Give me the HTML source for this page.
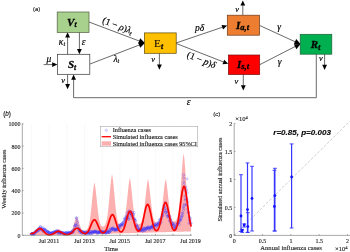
<!DOCTYPE html>
<html><head><meta charset="utf-8"><title>Figure</title>
<style>
html,body{margin:0;padding:0;background:#fff;}
body{width:350px;height:252px;overflow:hidden;font-family:"Liberation Sans",sans-serif;}
svg{display:block;will-change:transform;}
#pb text,#pc text{stroke:#262626;stroke-width:0.14px;}
</style></head><body>
<svg width="350" height="252" viewBox="0 0 350 252">
<rect width="350" height="252" fill="#fff"/>
<g id="pa">
<line x1="89.00" y1="22.00" x2="144.50" y2="43.00" stroke="#444444" stroke-width="0.80"/>
<line x1="90.00" y1="64.00" x2="144.50" y2="43.00" stroke="#444444" stroke-width="0.80"/>
<polygon points="144.80,43.00 138.20,43.50 140.18,38.26" fill="#000"/>
<polygon points="144.80,43.00 140.21,47.77 138.19,42.54" fill="#000"/>
<line x1="175.50" y1="43.20" x2="222.75" y2="27.11" stroke="#444444" stroke-width="0.80"/><polygon points="227.20,25.60 223.05,29.55 221.50,25.00" fill="#000"/>
<line x1="175.50" y1="43.20" x2="223.82" y2="62.09" stroke="#444444" stroke-width="0.80"/><polygon points="228.20,63.80 222.48,64.14 224.23,59.67" fill="#000"/>
<line x1="259.50" y1="25.40" x2="300.00" y2="44.00" stroke="#444444" stroke-width="0.80"/>
<line x1="259.50" y1="64.80" x2="300.00" y2="44.00" stroke="#444444" stroke-width="0.80"/>
<polygon points="300.50,44.00 293.88,44.04 296.22,38.95" fill="#000"/>
<polygon points="300.50,44.00 296.44,49.23 293.88,44.25" fill="#000"/>
<line x1="67.60" y1="54.50" x2="67.60" y2="36.90" stroke="#444444" stroke-width="0.80"/><polygon points="67.60,32.20 70.00,37.40 65.20,37.40" fill="#000"/>
<line x1="79.40" y1="32.00" x2="79.40" y2="49.60" stroke="#444444" stroke-width="0.80"/><polygon points="79.40,54.30 77.00,49.10 81.80,49.10" fill="#000"/>
<line x1="43.60" y1="64.60" x2="52.70" y2="64.60" stroke="#444444" stroke-width="0.80"/><polygon points="57.40,64.60 52.20,67.00 52.20,62.20" fill="#000"/>
<line x1="67.60" y1="74.50" x2="67.60" y2="84.60" stroke="#444444" stroke-width="0.80"/><polygon points="67.60,89.30 65.20,84.10 70.00,84.10" fill="#000"/>
<polyline points="316.3,54 316.3,97.7 73.6,97.7 73.6,78" fill="none" stroke="#444444" stroke-width="0.8"/>
<polygon points="73.60,74.60 76.00,79.80 71.20,79.80" fill="#000"/>
<line x1="159.40" y1="53.30" x2="159.40" y2="65.00" stroke="#444444" stroke-width="0.80"/><polygon points="159.40,69.70 157.00,64.50 161.80,64.50" fill="#000"/>
<line x1="242.80" y1="15.20" x2="242.80" y2="5.10" stroke="#444444" stroke-width="0.80"/><polygon points="242.80,0.40 245.20,5.60 240.40,5.60" fill="#000"/>
<line x1="243.30" y1="74.50" x2="243.30" y2="85.80" stroke="#444444" stroke-width="0.80"/><polygon points="243.30,90.50 240.90,85.30 245.70,85.30" fill="#000"/>
<line x1="324.60" y1="54.00" x2="324.60" y2="65.30" stroke="#444444" stroke-width="0.80"/><polygon points="324.60,70.00 322.20,64.80 327.00,64.80" fill="#000"/>
<rect x="57.20" y="12.00" width="31.80" height="20.40" fill="#A9D18E" stroke="#4d5d3a" stroke-width="0.7"/>
<rect x="57.50" y="54.30" width="32.30" height="20.00" fill="#ffffff" stroke="#333" stroke-width="0.7"/>
<rect x="144.40" y="32.90" width="31.80" height="20.40" fill="#FFC000" stroke="#5a4a10" stroke-width="0.7"/>
<rect x="227.30" y="15.20" width="32.30" height="20.00" fill="#ED7D31" stroke="#6a3a18" stroke-width="0.7"/>
<rect x="228.40" y="55.00" width="31.30" height="19.60" fill="#FF0000" stroke="#7a1010" stroke-width="0.7"/>
<rect x="300.20" y="34.30" width="31.60" height="19.90" fill="#00B050" stroke="#1f5f35" stroke-width="0.7"/>
<text x="71.80" y="25.60" font-family="Liberation Serif" font-size="11.0" text-anchor="middle" stroke="#000" stroke-width="0.3" style="font-style:italic;font-weight:bold">V<tspan font-family="Liberation Serif" font-size="7.5" dy="1.8" style="font-style:italic;font-weight:bold">t</tspan></text>
<text x="72.00" y="67.90" font-family="Liberation Serif" font-size="11.0" text-anchor="middle" stroke="#000" stroke-width="0.3" style="font-style:italic;font-weight:bold">S<tspan font-family="Liberation Serif" font-size="7.5" dy="1.8" style="font-style:italic;font-weight:bold">t</tspan></text>
<text x="158.6" y="46.9" font-family="Liberation Serif" font-size="11.3" text-anchor="middle">E<tspan font-size="7.5" dy="1.8" stroke="#000" stroke-width="0.3" style="font-style:italic;font-weight:bold">t</tspan></text>
<text x="242.50" y="28.70" font-family="Liberation Serif" font-size="11.0" text-anchor="middle" stroke="#000" stroke-width="0.3" style="font-style:italic;font-weight:bold">I<tspan font-family="Liberation Serif" font-size="8.5" dy="1.4" style="font-style:italic;font-weight:bold">a,t</tspan></text>
<text x="243.00" y="68.00" font-family="Liberation Serif" font-size="11.0" text-anchor="middle" stroke="#000" stroke-width="0.3" style="font-style:italic;font-weight:bold">I<tspan font-family="Liberation Serif" font-size="8.5" dy="1.4" style="font-style:italic;font-weight:bold">s,t</tspan></text>
<text x="315.50" y="48.00" font-family="Liberation Serif" font-size="11.0" text-anchor="middle" stroke="#000" stroke-width="0.3" style="font-style:italic;font-weight:bold">R<tspan font-family="Liberation Serif" font-size="7.5" dy="1.8" style="font-style:italic;font-weight:bold">t</tspan></text>
<text x="62.00" y="44.50" font-family="Liberation Serif" font-size="9.5" font-style="italic" text-anchor="middle" stroke="#000" stroke-width="0.18" >κ<tspan font-size="6.5" dy="1.5">t</tspan></text>
<text x="83.60" y="45.00" font-family="Liberation Serif" font-size="9.5" font-style="italic" text-anchor="middle" stroke="#000" stroke-width="0.18" >ε</text>
<text x="49.00" y="62.00" font-family="Liberation Serif" font-size="9.5" font-style="italic" text-anchor="middle" stroke="#000" stroke-width="0.18" >μ</text>
<text x="63.00" y="83.40" font-family="Liberation Serif" font-size="8.4" font-style="italic" text-anchor="middle" stroke="#000" stroke-width="0.18" >ν</text>
<text x="116.50" y="28.50" font-family="Liberation Serif" font-size="9.5" font-style="italic" text-anchor="middle" stroke="#000" stroke-width="0.18" transform="rotate(21.0 116.50 28.50)" ><tspan font-style="normal">(1 − </tspan>ρ<tspan font-style="normal">)</tspan>λ<tspan font-size="6.5" dy="1.5">t</tspan></text>
<text x="116.40" y="61.50" font-family="Liberation Serif" font-size="9.5" font-style="italic" text-anchor="middle" stroke="#000" stroke-width="0.18" >λ<tspan font-size="6.5" dy="1.5">t</tspan></text>
<text x="153.20" y="62.40" font-family="Liberation Serif" font-size="8.4" font-style="italic" text-anchor="middle" stroke="#000" stroke-width="0.18" >ν</text>
<text x="199.60" y="31.00" font-family="Liberation Serif" font-size="9.5" font-style="italic" text-anchor="middle" stroke="#000" stroke-width="0.18" >pδ</text>
<text x="200.30" y="62.80" font-family="Liberation Serif" font-size="9.5" font-style="italic" text-anchor="middle" stroke="#000" stroke-width="0.18" transform="rotate(22.0 200.30 62.80)" ><tspan font-style="normal">(1 − </tspan>p<tspan font-style="normal">)</tspan>δ</text>
<text x="237.00" y="12.00" font-family="Liberation Serif" font-size="8.4" font-style="italic" text-anchor="middle" stroke="#000" stroke-width="0.18" >ν</text>
<text x="236.30" y="83.80" font-family="Liberation Serif" font-size="8.4" font-style="italic" text-anchor="middle" stroke="#000" stroke-width="0.18" >ν</text>
<text x="279.00" y="30.00" font-family="Liberation Serif" font-size="9.5" font-style="italic" text-anchor="middle" stroke="#000" stroke-width="0.18" >γ</text>
<text x="279.60" y="65.20" font-family="Liberation Serif" font-size="9.5" font-style="italic" text-anchor="middle" stroke="#000" stroke-width="0.18" >γ</text>
<text x="320.80" y="61.40" font-family="Liberation Serif" font-size="8.4" font-style="italic" text-anchor="middle" stroke="#000" stroke-width="0.18" >ν</text>
<text x="188.60" y="105.00" font-family="Liberation Serif" font-size="9.5" font-style="italic" text-anchor="middle" stroke="#000" stroke-width="0.18" >ε</text>
<text x="36.7" y="10.9" font-family="Liberation Sans" font-size="5.9" text-anchor="middle" fill="#111" stroke="#111" stroke-width="0.12">(<tspan font-style="italic">a</tspan>)</text>
</g>
<g id="pb">
<line x1="31.50" y1="123.80" x2="31.50" y2="235.30" stroke="#f2f2f2" stroke-width="0.50"/>
<line x1="49.20" y1="123.80" x2="49.20" y2="235.30" stroke="#f2f2f2" stroke-width="0.50"/>
<line x1="66.90" y1="123.80" x2="66.90" y2="235.30" stroke="#f2f2f2" stroke-width="0.50"/>
<line x1="84.60" y1="123.80" x2="84.60" y2="235.30" stroke="#f2f2f2" stroke-width="0.50"/>
<line x1="102.30" y1="123.80" x2="102.30" y2="235.30" stroke="#f2f2f2" stroke-width="0.50"/>
<line x1="120.00" y1="123.80" x2="120.00" y2="235.30" stroke="#f2f2f2" stroke-width="0.50"/>
<line x1="137.70" y1="123.80" x2="137.70" y2="235.30" stroke="#f2f2f2" stroke-width="0.50"/>
<line x1="155.40" y1="123.80" x2="155.40" y2="235.30" stroke="#f2f2f2" stroke-width="0.50"/>
<line x1="173.10" y1="123.80" x2="173.10" y2="235.30" stroke="#f2f2f2" stroke-width="0.50"/>
<line x1="190.80" y1="123.80" x2="190.80" y2="235.30" stroke="#f2f2f2" stroke-width="0.50"/>
<polygon points="31.00,233.51 31.25,233.48 31.50,233.44 31.75,233.39 32.00,233.34 32.25,233.27 32.50,233.20 32.75,233.11 33.00,233.01 33.25,232.90 33.50,232.78 33.75,232.64 34.00,232.50 34.25,232.33 34.50,232.16 34.75,231.97 35.00,231.77 35.25,231.56 35.50,231.34 35.75,231.11 36.00,230.88 36.25,230.64 36.50,230.41 36.75,230.17 37.00,229.93 37.25,229.70 37.50,229.48 37.75,229.28 38.00,229.08 38.25,228.91 38.50,228.75 38.75,228.62 39.00,228.51 39.25,228.42 39.50,228.37 39.75,228.34 40.00,228.34 40.25,228.37 40.50,228.43 40.75,228.52 41.00,228.64 41.25,228.78 41.50,228.95 41.75,229.14 42.00,229.35 42.25,229.58 42.50,229.82 42.75,230.07 43.00,230.33 43.25,230.60 43.50,230.87 43.75,231.15 44.00,231.42 44.25,231.68 44.50,231.94 44.75,232.19 45.00,232.44 45.25,232.67 45.50,232.89 45.75,233.09 46.00,233.29 46.25,233.47 46.50,233.63 46.75,233.67 47.00,233.68 47.25,233.69 47.50,233.70 47.75,233.71 48.00,233.72 48.25,233.72 48.50,233.72 48.75,233.72 49.00,233.71 49.25,233.71 49.50,233.70 49.75,233.68 50.00,233.67 50.25,233.65 50.50,233.63 50.75,233.61 51.00,233.59 51.25,233.55 51.50,233.52 51.75,233.48 52.00,233.43 52.25,233.37 52.50,233.30 52.75,233.22 53.00,233.13 53.25,233.03 53.50,232.91 53.75,232.78 54.00,232.64 54.25,232.47 54.50,232.30 54.75,232.11 55.00,231.90 55.25,231.68 55.50,231.46 55.75,231.22 56.00,230.98 56.25,230.74 56.50,230.50 56.75,230.27 57.00,230.04 57.25,229.83 57.50,229.64 57.75,229.47 58.00,229.31 58.25,229.19 58.50,229.08 58.75,229.17 59.00,229.29 59.25,229.43 59.50,229.59 59.75,229.77 60.00,229.96 60.25,230.17 60.50,230.39 60.75,230.62 61.00,230.85 61.25,231.07 61.50,231.29 61.75,231.50 62.00,231.71 62.25,231.89 62.50,232.07 62.75,232.23 63.00,232.37 63.25,232.50 63.50,232.61 63.75,232.71 64.00,232.79 64.25,232.86 64.50,232.92 64.75,232.96 65.00,233.00 65.25,233.02 65.50,233.04 65.75,233.05 66.00,233.05 66.25,233.05 66.50,233.04 66.75,233.03 67.00,233.01 67.25,232.98 67.50,232.94 67.75,232.90 68.00,232.85 68.25,232.79 68.50,232.73 68.75,232.65 69.00,232.56 69.25,232.46 69.50,232.34 69.75,232.20 70.00,232.03 70.25,231.84 70.50,231.62 70.75,231.36 71.00,231.07 71.25,230.73 71.50,230.35 71.75,229.92 72.00,229.44 72.25,228.90 72.50,228.31 72.75,227.67 73.00,226.98 73.25,226.25 73.50,225.48 73.75,224.67 74.00,223.85 74.25,223.02 74.50,222.19 74.75,221.37 75.00,220.59 75.25,219.84 75.50,219.15 75.75,218.52 76.00,217.97 76.25,217.50 76.50,217.11 76.75,217.16 77.00,217.52 77.25,217.97 77.50,218.49 77.75,219.09 78.00,219.75 78.25,220.46 78.50,221.21 78.75,221.98 79.00,222.77 79.25,223.55 79.50,224.33 79.75,225.07 80.00,225.79 80.25,226.46 80.50,227.09 80.75,227.67 81.00,228.19 81.25,228.66 81.50,229.07 81.75,229.43 82.00,229.74 82.25,230.01 82.50,230.22 82.75,230.40 83.00,230.54 83.25,230.65 83.50,230.73 83.75,230.78 84.00,230.80 84.25,230.81 84.50,230.79 84.75,230.76 85.00,230.70 85.25,230.61 85.50,230.49 85.75,230.35 86.00,230.19 86.25,230.00 86.50,229.78 86.75,229.52 87.00,229.22 87.25,228.87 87.50,228.46 87.75,227.99 88.00,227.43 88.25,226.78 88.50,226.03 88.75,225.17 89.00,224.18 89.25,223.05 89.50,221.77 89.75,220.34 90.00,218.76 90.25,217.01 90.50,215.10 90.75,213.05 91.00,210.85 91.25,208.54 91.50,206.13 91.75,203.65 92.00,201.14 92.25,198.63 92.50,196.15 92.75,193.76 93.00,191.48 93.25,189.36 93.50,187.43 93.75,185.72 94.00,184.25 94.25,183.04 94.50,182.80 94.75,183.87 95.00,185.20 95.25,186.77 95.50,188.57 95.75,190.57 96.00,192.72 96.25,195.01 96.50,197.38 96.75,199.80 97.00,202.22 97.25,204.62 97.50,206.95 97.75,209.19 98.00,211.31 98.25,213.30 98.50,215.14 98.75,216.82 99.00,218.34 99.25,219.69 99.50,220.89 99.75,221.94 100.00,222.85 100.25,223.63 100.50,224.28 100.75,224.83 101.00,225.29 101.25,225.65 101.50,225.95 101.75,226.18 102.00,226.35 102.25,226.47 102.50,226.54 102.75,226.57 103.00,226.57 103.25,226.53 103.50,226.45 103.75,226.34 104.00,226.19 104.25,226.00 104.50,225.76 104.75,225.46 105.00,225.09 105.25,224.65 105.50,224.11 105.75,223.48 106.00,222.74 106.25,221.87 106.50,220.86 106.75,219.70 107.00,218.37 107.25,216.87 107.50,215.19 107.75,213.33 108.00,211.29 108.25,209.08 108.50,206.70 108.75,204.17 109.00,201.53 109.25,198.79 109.50,196.00 109.75,193.19 110.00,190.40 110.25,187.69 110.50,185.09 110.75,182.65 111.00,180.42 111.25,178.41 111.50,176.67 111.75,175.22 112.00,174.06 112.25,175.18 112.50,176.59 112.75,178.29 113.00,180.25 113.25,182.45 113.50,184.85 113.75,187.40 114.00,190.08 114.25,192.82 114.50,195.59 114.75,198.34 115.00,201.04 115.25,203.64 115.50,206.12 115.75,208.46 116.00,210.64 116.25,212.64 116.50,214.46 116.75,216.09 117.00,217.55 117.25,218.84 117.50,219.96 117.75,220.93 118.00,221.76 118.25,222.46 118.50,223.05 118.75,223.55 119.00,223.95 119.25,224.28 119.50,224.54 119.75,224.75 120.00,224.90 120.25,225.01 120.50,225.08 120.75,225.11 121.00,225.11 121.25,225.08 121.50,225.01 121.75,224.90 122.00,224.75 122.25,224.55 122.50,224.30 122.75,224.00 123.00,223.62 123.25,223.17 123.50,222.63 123.75,221.99 124.00,221.24 124.25,220.36 124.50,219.35 124.75,218.19 125.00,216.88 125.25,215.41 125.50,213.77 125.75,211.97 126.00,210.01 126.25,207.89 126.50,205.65 126.75,203.29 127.00,200.84 127.25,198.33 127.50,195.80 127.75,193.29 128.00,190.83 128.25,188.47 128.50,186.24 128.75,184.18 129.00,182.34 129.25,180.72 129.50,179.36 129.75,178.26 130.00,178.86 130.25,180.08 130.50,181.56 130.75,183.29 131.00,185.23 131.25,187.36 131.50,189.64 131.75,192.03 132.00,194.50 132.25,196.99 132.50,199.48 132.75,201.92 133.00,204.29 133.25,206.55 133.50,208.69 133.75,210.68 134.00,212.52 134.25,214.19 134.50,215.70 134.75,217.05 135.00,218.23 135.25,219.28 135.50,220.18 135.75,220.95 136.00,221.61 136.25,222.16 136.50,222.62 136.75,223.01 137.00,223.32 137.25,223.57 137.50,223.77 137.75,223.92 138.00,224.03 138.25,224.11 138.50,224.15 138.75,224.17 139.00,224.16 139.25,224.12 139.50,224.06 139.75,223.96 140.00,223.83 140.25,223.66 140.50,223.45 140.75,223.19 141.00,222.87 141.25,222.49 141.50,222.03 141.75,221.49 142.00,220.85 142.25,220.10 142.50,219.23 142.75,218.23 143.00,217.09 143.25,215.80 143.50,214.35 143.75,212.75 144.00,210.99 144.25,209.08 144.50,207.04 144.75,204.86 145.00,202.58 145.25,200.23 145.50,197.82 145.75,195.40 146.00,193.00 146.25,190.66 146.50,188.43 146.75,186.32 147.00,184.40 147.25,182.67 147.50,181.17 147.75,179.92 148.00,178.92 148.25,179.88 148.50,181.09 148.75,182.55 149.00,184.24 149.25,186.13 149.50,188.19 149.75,190.39 150.00,192.69 150.25,195.05 150.50,197.43 150.75,199.80 151.00,202.12 151.25,204.36 151.50,206.49 151.75,208.50 152.00,210.37 152.25,212.09 152.50,213.65 152.75,215.06 153.00,216.31 153.25,217.41 153.50,218.37 153.75,219.20 154.00,219.91 154.25,220.51 154.50,221.01 154.75,221.43 155.00,221.77 155.25,222.04 155.50,222.26 155.75,222.42 156.00,222.55 156.25,222.63 156.50,222.67 156.75,222.69 157.00,222.67 157.25,222.63 157.50,222.55 157.75,222.45 158.00,222.30 158.25,222.10 158.50,221.86 158.75,221.55 159.00,221.18 159.25,220.73 159.50,220.20 159.75,219.57 160.00,218.83 160.25,217.97 160.50,216.98 160.75,215.84 161.00,214.56 161.25,213.13 161.50,211.55 161.75,209.81 162.00,207.92 162.25,205.90 162.50,203.77 162.75,201.53 163.00,199.22 163.25,196.87 163.50,194.51 163.75,192.18 164.00,189.92 164.25,187.77 164.50,185.75 164.75,183.91 165.00,182.27 165.25,180.86 165.50,179.68 165.75,179.10 166.00,180.10 166.25,181.34 166.50,182.82 166.75,184.52 167.00,186.42 167.25,188.47 167.50,190.65 167.75,192.92 168.00,195.24 168.25,197.57 168.50,199.88 168.75,202.14 169.00,204.32 169.25,206.38 169.50,208.32 169.75,210.12 170.00,211.77 170.25,213.26 170.50,214.60 170.75,215.79 171.00,216.83 171.25,217.74 171.50,218.52 171.75,219.18 172.00,219.73 172.25,220.19 172.50,220.57 172.75,220.87 173.00,221.10 173.25,221.28 173.50,221.41 173.75,221.49 174.00,221.54 174.25,221.54 174.50,221.51 174.75,221.44 175.00,221.33 175.25,221.18 175.50,220.98 175.75,220.73 176.00,220.42 176.25,220.04 176.50,219.59 176.75,219.04 177.00,218.39 177.25,217.62 177.50,216.71 177.75,215.65 178.00,214.41 178.25,212.98 178.50,211.35 178.75,209.50 179.00,207.43 179.25,205.11 179.50,202.57 179.75,199.79 180.00,196.79 180.25,193.60 180.50,190.24 180.75,186.75 181.00,183.16 181.25,179.53 181.50,175.91 181.75,172.37 182.00,168.95 182.25,165.72 182.50,162.72 182.75,160.02 183.00,157.65 183.25,155.63 183.50,154.00 183.75,154.30 184.00,156.01 184.25,158.10 184.50,160.55 184.75,163.32 185.00,166.36 185.25,169.64 185.50,173.10 185.75,176.67 186.00,180.30 186.25,183.93 186.50,187.51 186.75,190.99 187.00,194.33 187.25,197.50 187.50,200.46 187.75,203.21 188.00,205.73 188.25,208.01 188.50,210.06 188.75,211.89 189.00,213.50 189.25,214.92 189.50,216.15 189.75,217.21 190.00,218.13 190.25,218.91 190.50,219.59 190.75,220.16 191.00,220.65 191.00,231.43 190.75,231.43 190.50,231.44 190.25,231.45 190.00,231.45 189.75,231.46 189.50,231.47 189.25,231.47 189.00,231.48 188.75,231.49 188.50,231.50 188.25,231.50 188.00,231.51 187.75,231.52 187.50,231.52 187.25,231.53 187.00,231.54 186.75,231.54 186.50,231.55 186.25,231.56 186.00,231.56 185.75,231.57 185.50,231.58 185.25,231.59 185.00,231.59 184.75,231.60 184.50,231.61 184.25,231.61 184.00,231.62 183.75,231.63 183.50,231.63 183.25,231.64 183.00,231.65 182.75,231.66 182.50,231.66 182.25,231.67 182.00,231.68 181.75,231.68 181.50,231.69 181.25,231.70 181.00,231.70 180.75,231.71 180.50,231.72 180.25,231.73 180.00,231.73 179.75,231.74 179.50,231.75 179.25,231.75 179.00,231.76 178.75,231.77 178.50,231.77 178.25,231.78 178.00,231.79 177.75,231.79 177.50,231.80 177.25,231.81 177.00,231.82 176.75,231.82 176.50,231.83 176.25,231.84 176.00,231.84 175.75,231.85 175.50,231.86 175.25,231.86 175.00,231.87 174.75,231.88 174.50,231.89 174.25,231.89 174.00,231.90 173.75,231.91 173.50,231.91 173.25,231.92 173.00,231.93 172.75,231.93 172.50,231.94 172.25,231.95 172.00,231.96 171.75,231.96 171.50,231.97 171.25,231.98 171.00,231.98 170.75,231.99 170.50,232.00 170.25,232.00 170.00,232.01 169.75,232.02 169.50,232.02 169.25,232.03 169.00,232.04 168.75,232.05 168.50,232.05 168.25,232.06 168.00,232.07 167.75,232.07 167.50,232.08 167.25,232.09 167.00,232.09 166.75,232.10 166.50,232.11 166.25,232.12 166.00,232.12 165.75,232.13 165.50,232.14 165.25,232.14 165.00,232.15 164.75,232.16 164.50,232.16 164.25,232.17 164.00,232.18 163.75,232.18 163.50,232.19 163.25,232.20 163.00,232.21 162.75,232.21 162.50,232.22 162.25,232.23 162.00,232.23 161.75,232.24 161.50,232.25 161.25,232.25 161.00,232.26 160.75,232.27 160.50,232.28 160.25,232.28 160.00,232.29 159.75,232.30 159.50,232.30 159.25,232.31 159.00,232.32 158.75,232.32 158.50,232.33 158.25,232.34 158.00,232.35 157.75,232.35 157.50,232.36 157.25,232.37 157.00,232.37 156.75,232.38 156.50,232.39 156.25,232.39 156.00,232.40 155.75,232.41 155.50,232.41 155.25,232.42 155.00,232.43 154.75,232.44 154.50,232.44 154.25,232.45 154.00,232.46 153.75,232.46 153.50,232.47 153.25,232.48 153.00,232.48 152.75,232.49 152.50,232.50 152.25,232.51 152.00,232.51 151.75,232.52 151.50,232.53 151.25,232.53 151.00,232.54 150.75,232.55 150.50,232.55 150.25,232.56 150.00,232.57 149.75,232.58 149.50,232.58 149.25,232.59 149.00,232.60 148.75,232.60 148.50,232.61 148.25,232.62 148.00,232.62 147.75,232.63 147.50,232.64 147.25,232.64 147.00,232.65 146.75,232.66 146.50,232.67 146.25,232.67 146.00,232.68 145.75,232.69 145.50,232.69 145.25,232.70 145.00,232.71 144.75,232.71 144.50,232.72 144.25,232.73 144.00,232.74 143.75,232.74 143.50,232.75 143.25,232.76 143.00,232.76 142.75,232.77 142.50,232.78 142.25,232.78 142.00,232.79 141.75,232.80 141.50,232.81 141.25,232.81 141.00,232.82 140.75,232.83 140.50,232.83 140.25,232.84 140.00,232.85 139.75,232.85 139.50,232.86 139.25,232.87 139.00,232.87 138.75,232.88 138.50,232.89 138.25,232.90 138.00,232.90 137.75,232.91 137.50,232.92 137.25,232.92 137.00,232.93 136.75,232.94 136.50,232.94 136.25,232.95 136.00,232.96 135.75,232.97 135.50,232.97 135.25,232.98 135.00,232.99 134.75,232.99 134.50,233.00 134.25,233.01 134.00,233.01 133.75,233.02 133.50,233.03 133.25,233.04 133.00,233.04 132.75,233.05 132.50,233.06 132.25,233.06 132.00,233.07 131.75,233.08 131.50,233.08 131.25,233.09 131.00,233.10 130.75,233.10 130.50,233.11 130.25,233.12 130.00,233.13 129.75,233.13 129.50,233.14 129.25,233.15 129.00,233.15 128.75,233.16 128.50,233.17 128.25,233.17 128.00,233.18 127.75,233.19 127.50,233.20 127.25,233.20 127.00,233.21 126.75,233.22 126.50,233.22 126.25,233.23 126.00,233.24 125.75,233.24 125.50,233.25 125.25,233.26 125.00,233.27 124.75,233.27 124.50,233.28 124.25,233.29 124.00,233.29 123.75,233.30 123.50,233.31 123.25,233.31 123.00,233.32 122.75,233.33 122.50,233.33 122.25,233.34 122.00,233.35 121.75,233.36 121.50,233.36 121.25,233.37 121.00,233.38 120.75,233.38 120.50,233.39 120.25,233.40 120.00,233.40 119.75,233.41 119.50,233.42 119.25,233.43 119.00,233.43 118.75,233.44 118.50,233.45 118.25,233.45 118.00,233.46 117.75,233.47 117.50,233.47 117.25,233.48 117.00,233.49 116.75,233.50 116.50,233.50 116.25,233.51 116.00,233.52 115.75,233.52 115.50,233.53 115.25,233.54 115.00,233.54 114.75,233.55 114.50,233.56 114.25,233.56 114.00,233.57 113.75,233.58 113.50,233.59 113.25,233.59 113.00,233.60 112.75,233.61 112.50,233.61 112.25,233.62 112.00,233.63 111.75,233.63 111.50,233.64 111.25,233.65 111.00,233.66 110.75,233.66 110.50,233.67 110.25,233.68 110.00,233.68 109.75,233.69 109.50,233.70 109.25,233.70 109.00,233.71 108.75,233.72 108.50,233.73 108.25,233.73 108.00,233.74 107.75,233.75 107.50,233.75 107.25,233.76 107.00,233.77 106.75,233.77 106.50,233.78 106.25,233.79 106.00,233.79 105.75,233.80 105.50,233.81 105.25,233.82 105.00,233.82 104.75,233.83 104.50,233.84 104.25,233.84 104.00,233.85 103.75,233.86 103.50,233.86 103.25,233.87 103.00,233.88 102.75,233.89 102.50,233.89 102.25,233.90 102.00,233.91 101.75,233.91 101.50,233.92 101.25,233.93 101.00,233.93 100.75,233.94 100.50,233.95 100.25,233.96 100.00,233.96 99.75,233.97 99.50,233.98 99.25,233.98 99.00,233.99 98.75,234.00 98.50,234.00 98.25,234.01 98.00,234.02 97.75,234.02 97.50,234.03 97.25,234.04 97.00,234.05 96.75,234.05 96.50,234.06 96.25,234.07 96.00,234.07 95.75,234.08 95.50,234.09 95.25,234.09 95.00,234.10 94.75,234.11 94.50,234.12 94.25,234.12 94.00,234.13 93.75,234.14 93.50,234.14 93.25,234.15 93.00,234.16 92.75,234.16 92.50,234.17 92.25,234.18 92.00,234.19 91.75,234.19 91.50,234.20 91.25,234.21 91.00,234.21 90.75,234.22 90.50,234.23 90.25,234.23 90.00,234.24 89.75,234.25 89.50,234.25 89.25,234.26 89.00,234.27 88.75,234.28 88.50,234.28 88.25,234.29 88.00,234.30 87.75,234.30 87.50,234.31 87.25,234.32 87.00,234.32 86.75,234.33 86.50,234.34 86.25,234.35 86.00,234.35 85.75,234.36 85.50,234.37 85.25,234.37 85.00,234.38 84.75,234.39 84.50,234.39 84.25,234.40 84.00,234.41 83.75,234.41 83.50,234.42 83.25,234.43 83.00,234.44 82.75,234.44 82.50,234.45 82.25,234.46 82.00,234.46 81.75,234.47 81.50,234.48 81.25,234.48 81.00,234.49 80.75,234.50 80.50,234.51 80.25,234.51 80.00,234.52 79.75,234.53 79.50,234.53 79.25,234.54 79.00,234.55 78.75,234.55 78.50,234.56 78.25,234.57 78.00,234.58 77.75,234.58 77.50,234.59 77.25,234.60 77.00,234.60 76.75,234.61 76.50,234.62 76.25,234.62 76.00,234.63 75.75,234.64 75.50,234.64 75.25,234.65 75.00,234.66 74.75,234.67 74.50,234.67 74.25,234.68 74.00,234.69 73.75,234.69 73.50,234.70 73.25,234.71 73.00,234.71 72.75,234.72 72.50,234.73 72.25,234.74 72.00,234.74 71.75,234.75 71.50,234.76 71.25,234.76 71.00,234.77 70.75,234.78 70.50,234.78 70.25,234.79 70.00,234.80 69.75,234.81 69.50,234.81 69.25,234.82 69.00,234.83 68.75,234.83 68.50,234.84 68.25,234.85 68.00,234.85 67.75,234.86 67.50,234.87 67.25,234.87 67.00,234.88 66.75,234.89 66.50,234.90 66.25,234.90 66.00,234.91 65.75,234.92 65.50,234.92 65.25,234.93 65.00,234.94 64.75,234.94 64.50,234.95 64.25,234.96 64.00,234.97 63.75,234.97 63.50,234.98 63.25,234.99 63.00,234.99 62.75,235.00 62.50,235.01 62.25,235.01 62.00,235.02 61.75,235.03 61.50,235.04 61.25,235.04 61.00,235.05 60.75,235.06 60.50,235.06 60.25,235.07 60.00,235.08 59.75,235.08 59.50,235.08 59.25,235.08 59.00,235.08 58.75,235.08 58.50,235.08 58.25,235.08 58.00,235.08 57.75,235.08 57.50,235.08 57.25,235.08 57.00,235.08 56.75,235.08 56.50,235.08 56.25,235.08 56.00,235.08 55.75,235.08 55.50,235.08 55.25,235.08 55.00,235.08 54.75,235.08 54.50,235.08 54.25,235.08 54.00,235.08 53.75,235.08 53.50,235.08 53.25,235.08 53.00,235.08 52.75,235.08 52.50,235.08 52.25,235.08 52.00,235.08 51.75,235.08 51.50,235.08 51.25,235.08 51.00,235.08 50.75,235.08 50.50,235.08 50.25,235.08 50.00,235.08 49.75,235.08 49.50,235.08 49.25,235.08 49.00,235.08 48.75,235.08 48.50,235.08 48.25,235.08 48.00,235.08 47.75,235.08 47.50,235.08 47.25,235.08 47.00,235.08 46.75,235.08 46.50,235.08 46.25,235.08 46.00,235.08 45.75,235.08 45.50,235.08 45.25,235.08 45.00,235.08 44.75,235.08 44.50,235.08 44.25,235.08 44.00,235.08 43.75,235.08 43.50,235.08 43.25,235.08 43.00,235.08 42.75,235.08 42.50,235.08 42.25,235.08 42.00,235.08 41.75,235.08 41.50,235.08 41.25,235.08 41.00,235.08 40.75,235.08 40.50,235.08 40.25,235.08 40.00,235.08 39.75,235.08 39.50,235.08 39.25,235.08 39.00,235.08 38.75,235.08 38.50,235.08 38.25,235.08 38.00,235.08 37.75,235.08 37.50,235.08 37.25,235.08 37.00,235.08 36.75,235.08 36.50,235.08 36.25,235.08 36.00,235.08 35.75,235.08 35.50,235.08 35.25,235.08 35.00,235.08 34.75,235.08 34.50,235.08 34.25,235.08 34.00,235.08 33.75,235.08 33.50,235.08 33.25,235.08 33.00,235.08 32.75,235.08 32.50,235.08 32.25,235.08 32.00,235.08 31.75,235.08 31.50,235.08 31.25,235.08 31.00,235.08" fill="#fdb0b0" stroke="none"/>
<g fill="none" stroke="#2f2fff" stroke-opacity="0.5" stroke-width="0.55"><circle cx="31.00" cy="233.78" r="1.1"/><circle cx="31.34" cy="234.11" r="1.1"/><circle cx="31.68" cy="234.15" r="1.1"/><circle cx="32.02" cy="233.45" r="1.1"/><circle cx="32.36" cy="233.50" r="1.1"/><circle cx="32.70" cy="233.61" r="1.1"/><circle cx="33.04" cy="233.69" r="1.1"/><circle cx="33.38" cy="233.37" r="1.1"/><circle cx="33.72" cy="234.80" r="1.1"/><circle cx="34.06" cy="233.97" r="1.1"/><circle cx="34.40" cy="233.16" r="1.1"/><circle cx="34.74" cy="233.00" r="1.1"/><circle cx="35.08" cy="232.25" r="1.1"/><circle cx="35.42" cy="231.70" r="1.1"/><circle cx="35.77" cy="231.07" r="1.1"/><circle cx="36.11" cy="232.15" r="1.1"/><circle cx="36.45" cy="231.40" r="1.1"/><circle cx="36.79" cy="230.35" r="1.1"/><circle cx="37.13" cy="231.21" r="1.1"/><circle cx="37.47" cy="230.00" r="1.1"/><circle cx="37.81" cy="230.35" r="1.1"/><circle cx="38.15" cy="229.94" r="1.1"/><circle cx="38.49" cy="228.67" r="1.1"/><circle cx="38.83" cy="230.78" r="1.1"/><circle cx="39.17" cy="229.14" r="1.1"/><circle cx="39.51" cy="227.96" r="1.1"/><circle cx="39.85" cy="229.08" r="1.1"/><circle cx="40.19" cy="226.96" r="1.1"/><circle cx="40.53" cy="226.66" r="1.1"/><circle cx="40.87" cy="228.77" r="1.1"/><circle cx="41.21" cy="228.16" r="1.1"/><circle cx="41.55" cy="229.54" r="1.1"/><circle cx="41.89" cy="229.78" r="1.1"/><circle cx="42.23" cy="228.68" r="1.1"/><circle cx="42.57" cy="230.08" r="1.1"/><circle cx="42.91" cy="227.72" r="1.1"/><circle cx="43.25" cy="231.93" r="1.1"/><circle cx="43.59" cy="229.60" r="1.1"/><circle cx="43.93" cy="230.13" r="1.1"/><circle cx="44.27" cy="229.14" r="1.1"/><circle cx="44.62" cy="229.83" r="1.1"/><circle cx="44.96" cy="229.11" r="1.1"/><circle cx="45.30" cy="230.06" r="1.1"/><circle cx="45.64" cy="231.17" r="1.1"/><circle cx="45.98" cy="230.28" r="1.1"/><circle cx="46.32" cy="232.56" r="1.1"/><circle cx="46.66" cy="231.81" r="1.1"/><circle cx="47.00" cy="231.25" r="1.1"/><circle cx="47.34" cy="231.69" r="1.1"/><circle cx="47.68" cy="231.83" r="1.1"/><circle cx="48.02" cy="231.77" r="1.1"/><circle cx="48.36" cy="231.82" r="1.1"/><circle cx="48.70" cy="232.99" r="1.1"/><circle cx="49.04" cy="232.40" r="1.1"/><circle cx="49.38" cy="232.79" r="1.1"/><circle cx="49.72" cy="232.92" r="1.1"/><circle cx="50.06" cy="233.71" r="1.1"/><circle cx="50.40" cy="233.44" r="1.1"/><circle cx="50.74" cy="233.32" r="1.1"/><circle cx="51.08" cy="233.44" r="1.1"/><circle cx="51.42" cy="233.12" r="1.1"/><circle cx="51.76" cy="232.47" r="1.1"/><circle cx="52.10" cy="232.98" r="1.1"/><circle cx="52.44" cy="232.81" r="1.1"/><circle cx="52.78" cy="233.01" r="1.1"/><circle cx="53.12" cy="232.83" r="1.1"/><circle cx="53.47" cy="232.31" r="1.1"/><circle cx="53.81" cy="231.78" r="1.1"/><circle cx="54.15" cy="232.76" r="1.1"/><circle cx="54.49" cy="231.83" r="1.1"/><circle cx="54.83" cy="232.02" r="1.1"/><circle cx="55.17" cy="232.18" r="1.1"/><circle cx="55.51" cy="232.09" r="1.1"/><circle cx="55.85" cy="231.18" r="1.1"/><circle cx="56.19" cy="231.37" r="1.1"/><circle cx="56.53" cy="231.63" r="1.1"/><circle cx="56.87" cy="230.30" r="1.1"/><circle cx="57.21" cy="232.02" r="1.1"/><circle cx="57.55" cy="231.93" r="1.1"/><circle cx="57.89" cy="233.32" r="1.1"/><circle cx="58.23" cy="232.06" r="1.1"/><circle cx="58.57" cy="231.67" r="1.1"/><circle cx="58.91" cy="231.14" r="1.1"/><circle cx="59.25" cy="233.08" r="1.1"/><circle cx="59.59" cy="232.20" r="1.1"/><circle cx="59.93" cy="233.23" r="1.1"/><circle cx="60.27" cy="232.79" r="1.1"/><circle cx="60.61" cy="233.06" r="1.1"/><circle cx="60.95" cy="232.13" r="1.1"/><circle cx="61.29" cy="232.78" r="1.1"/><circle cx="61.63" cy="232.60" r="1.1"/><circle cx="61.98" cy="232.35" r="1.1"/><circle cx="62.32" cy="232.93" r="1.1"/><circle cx="62.66" cy="232.96" r="1.1"/><circle cx="63.00" cy="233.17" r="1.1"/><circle cx="63.34" cy="232.94" r="1.1"/><circle cx="63.68" cy="232.95" r="1.1"/><circle cx="64.02" cy="234.36" r="1.1"/><circle cx="64.36" cy="233.56" r="1.1"/><circle cx="64.70" cy="234.22" r="1.1"/><circle cx="65.04" cy="232.63" r="1.1"/><circle cx="65.38" cy="233.33" r="1.1"/><circle cx="65.72" cy="233.80" r="1.1"/><circle cx="66.06" cy="232.38" r="1.1"/><circle cx="66.40" cy="232.83" r="1.1"/><circle cx="66.74" cy="233.11" r="1.1"/><circle cx="67.08" cy="233.18" r="1.1"/><circle cx="67.42" cy="233.59" r="1.1"/><circle cx="67.76" cy="233.01" r="1.1"/><circle cx="68.10" cy="233.33" r="1.1"/><circle cx="68.44" cy="232.23" r="1.1"/><circle cx="68.78" cy="232.81" r="1.1"/><circle cx="69.12" cy="232.83" r="1.1"/><circle cx="69.46" cy="232.92" r="1.1"/><circle cx="69.80" cy="232.62" r="1.1"/><circle cx="70.14" cy="233.77" r="1.1"/><circle cx="70.48" cy="233.04" r="1.1"/><circle cx="70.83" cy="232.91" r="1.1"/><circle cx="71.17" cy="232.31" r="1.1"/><circle cx="71.51" cy="231.99" r="1.1"/><circle cx="71.85" cy="232.10" r="1.1"/><circle cx="72.19" cy="230.91" r="1.1"/><circle cx="72.53" cy="231.61" r="1.1"/><circle cx="72.87" cy="232.65" r="1.1"/><circle cx="73.21" cy="231.34" r="1.1"/><circle cx="73.55" cy="230.94" r="1.1"/><circle cx="73.89" cy="229.72" r="1.1"/><circle cx="74.23" cy="229.41" r="1.1"/><circle cx="74.57" cy="226.62" r="1.1"/><circle cx="74.91" cy="225.61" r="1.1"/><circle cx="75.25" cy="225.85" r="1.1"/><circle cx="75.59" cy="223.78" r="1.1"/><circle cx="75.93" cy="224.93" r="1.1"/><circle cx="76.27" cy="217.81" r="1.1"/><circle cx="76.61" cy="218.25" r="1.1"/><circle cx="76.95" cy="220.43" r="1.1"/><circle cx="77.29" cy="224.85" r="1.1"/><circle cx="77.63" cy="222.25" r="1.1"/><circle cx="77.97" cy="226.57" r="1.1"/><circle cx="78.31" cy="228.40" r="1.1"/><circle cx="78.65" cy="228.79" r="1.1"/><circle cx="78.99" cy="230.43" r="1.1"/><circle cx="79.33" cy="230.55" r="1.1"/><circle cx="79.68" cy="229.46" r="1.1"/><circle cx="80.02" cy="232.31" r="1.1"/><circle cx="80.36" cy="231.27" r="1.1"/><circle cx="80.70" cy="231.22" r="1.1"/><circle cx="81.04" cy="232.13" r="1.1"/><circle cx="81.38" cy="231.78" r="1.1"/><circle cx="81.72" cy="233.36" r="1.1"/><circle cx="82.06" cy="231.74" r="1.1"/><circle cx="82.40" cy="232.98" r="1.1"/><circle cx="82.74" cy="232.84" r="1.1"/><circle cx="83.08" cy="231.51" r="1.1"/><circle cx="83.42" cy="232.78" r="1.1"/><circle cx="83.76" cy="232.27" r="1.1"/><circle cx="84.10" cy="232.28" r="1.1"/><circle cx="84.44" cy="233.22" r="1.1"/><circle cx="84.78" cy="232.48" r="1.1"/><circle cx="85.12" cy="233.07" r="1.1"/><circle cx="85.46" cy="233.47" r="1.1"/><circle cx="85.80" cy="232.74" r="1.1"/><circle cx="86.14" cy="233.68" r="1.1"/><circle cx="86.48" cy="231.73" r="1.1"/><circle cx="86.82" cy="233.96" r="1.1"/><circle cx="87.16" cy="232.56" r="1.1"/><circle cx="87.50" cy="232.22" r="1.1"/><circle cx="87.84" cy="232.69" r="1.1"/><circle cx="88.18" cy="233.02" r="1.1"/><circle cx="88.53" cy="233.04" r="1.1"/><circle cx="88.87" cy="231.57" r="1.1"/><circle cx="89.21" cy="233.53" r="1.1"/><circle cx="89.55" cy="232.56" r="1.1"/><circle cx="89.89" cy="233.28" r="1.1"/><circle cx="90.23" cy="231.49" r="1.1"/><circle cx="90.57" cy="233.66" r="1.1"/><circle cx="90.91" cy="231.58" r="1.1"/><circle cx="91.25" cy="231.58" r="1.1"/><circle cx="91.59" cy="232.75" r="1.1"/><circle cx="91.93" cy="233.63" r="1.1"/><circle cx="92.27" cy="232.20" r="1.1"/><circle cx="92.61" cy="232.63" r="1.1"/><circle cx="92.95" cy="231.80" r="1.1"/><circle cx="93.29" cy="231.67" r="1.1"/><circle cx="93.63" cy="231.70" r="1.1"/><circle cx="93.97" cy="232.13" r="1.1"/><circle cx="94.31" cy="231.95" r="1.1"/><circle cx="94.65" cy="231.51" r="1.1"/><circle cx="94.99" cy="231.32" r="1.1"/><circle cx="95.33" cy="232.12" r="1.1"/><circle cx="95.67" cy="230.91" r="1.1"/><circle cx="96.01" cy="231.56" r="1.1"/><circle cx="96.35" cy="232.00" r="1.1"/><circle cx="96.69" cy="232.69" r="1.1"/><circle cx="97.03" cy="232.04" r="1.1"/><circle cx="97.38" cy="233.69" r="1.1"/><circle cx="97.72" cy="231.88" r="1.1"/><circle cx="98.06" cy="233.01" r="1.1"/><circle cx="98.40" cy="232.41" r="1.1"/><circle cx="98.74" cy="232.18" r="1.1"/><circle cx="99.08" cy="231.66" r="1.1"/><circle cx="99.42" cy="232.25" r="1.1"/><circle cx="99.76" cy="231.48" r="1.1"/><circle cx="100.10" cy="232.62" r="1.1"/><circle cx="100.44" cy="232.24" r="1.1"/><circle cx="100.78" cy="232.14" r="1.1"/><circle cx="101.12" cy="231.89" r="1.1"/><circle cx="101.46" cy="231.45" r="1.1"/><circle cx="101.80" cy="232.16" r="1.1"/><circle cx="102.14" cy="231.32" r="1.1"/><circle cx="102.48" cy="232.25" r="1.1"/><circle cx="102.82" cy="232.15" r="1.1"/><circle cx="103.16" cy="232.85" r="1.1"/><circle cx="103.50" cy="231.88" r="1.1"/><circle cx="103.84" cy="232.22" r="1.1"/><circle cx="104.18" cy="231.92" r="1.1"/><circle cx="104.52" cy="232.29" r="1.1"/><circle cx="104.86" cy="232.11" r="1.1"/><circle cx="105.20" cy="232.94" r="1.1"/><circle cx="105.54" cy="232.82" r="1.1"/><circle cx="105.88" cy="233.17" r="1.1"/><circle cx="106.23" cy="232.05" r="1.1"/><circle cx="106.57" cy="231.72" r="1.1"/><circle cx="106.91" cy="232.60" r="1.1"/><circle cx="107.25" cy="230.72" r="1.1"/><circle cx="107.59" cy="231.60" r="1.1"/><circle cx="107.93" cy="232.54" r="1.1"/><circle cx="108.27" cy="230.76" r="1.1"/><circle cx="108.61" cy="232.45" r="1.1"/><circle cx="108.95" cy="231.88" r="1.1"/><circle cx="109.29" cy="232.59" r="1.1"/><circle cx="109.63" cy="231.79" r="1.1"/><circle cx="109.97" cy="230.34" r="1.1"/><circle cx="110.31" cy="229.41" r="1.1"/><circle cx="110.65" cy="228.23" r="1.1"/><circle cx="110.99" cy="230.71" r="1.1"/><circle cx="111.33" cy="230.49" r="1.1"/><circle cx="111.67" cy="228.91" r="1.1"/><circle cx="112.01" cy="228.79" r="1.1"/><circle cx="112.35" cy="229.35" r="1.1"/><circle cx="112.69" cy="228.47" r="1.1"/><circle cx="113.03" cy="228.70" r="1.1"/><circle cx="113.37" cy="227.69" r="1.1"/><circle cx="113.71" cy="229.01" r="1.1"/><circle cx="114.05" cy="230.16" r="1.1"/><circle cx="114.39" cy="229.75" r="1.1"/><circle cx="114.73" cy="230.24" r="1.1"/><circle cx="115.08" cy="229.78" r="1.1"/><circle cx="115.42" cy="229.78" r="1.1"/><circle cx="115.76" cy="229.00" r="1.1"/><circle cx="116.10" cy="230.06" r="1.1"/><circle cx="116.44" cy="229.54" r="1.1"/><circle cx="116.78" cy="228.43" r="1.1"/><circle cx="117.12" cy="230.10" r="1.1"/><circle cx="117.46" cy="229.29" r="1.1"/><circle cx="117.80" cy="229.44" r="1.1"/><circle cx="118.14" cy="228.55" r="1.1"/><circle cx="118.48" cy="227.56" r="1.1"/><circle cx="118.82" cy="225.46" r="1.1"/><circle cx="119.16" cy="226.17" r="1.1"/><circle cx="119.50" cy="226.94" r="1.1"/><circle cx="119.84" cy="227.51" r="1.1"/><circle cx="120.18" cy="224.78" r="1.1"/><circle cx="120.52" cy="225.27" r="1.1"/><circle cx="120.86" cy="224.58" r="1.1"/><circle cx="121.20" cy="225.08" r="1.1"/><circle cx="121.54" cy="225.19" r="1.1"/><circle cx="121.88" cy="223.97" r="1.1"/><circle cx="122.22" cy="223.51" r="1.1"/><circle cx="122.56" cy="224.82" r="1.1"/><circle cx="122.90" cy="222.55" r="1.1"/><circle cx="123.24" cy="224.81" r="1.1"/><circle cx="123.58" cy="221.85" r="1.1"/><circle cx="123.92" cy="222.98" r="1.1"/><circle cx="124.27" cy="218.94" r="1.1"/><circle cx="124.61" cy="220.94" r="1.1"/><circle cx="124.95" cy="218.24" r="1.1"/><circle cx="125.29" cy="218.88" r="1.1"/><circle cx="125.63" cy="220.51" r="1.1"/><circle cx="125.97" cy="215.91" r="1.1"/><circle cx="126.31" cy="219.30" r="1.1"/><circle cx="126.65" cy="217.52" r="1.1"/><circle cx="126.99" cy="212.78" r="1.1"/><circle cx="127.33" cy="216.74" r="1.1"/><circle cx="127.67" cy="215.69" r="1.1"/><circle cx="128.01" cy="217.29" r="1.1"/><circle cx="128.35" cy="218.96" r="1.1"/><circle cx="128.69" cy="211.64" r="1.1"/><circle cx="129.03" cy="219.14" r="1.1"/><circle cx="129.37" cy="210.81" r="1.1"/><circle cx="129.71" cy="213.76" r="1.1"/><circle cx="130.05" cy="213.85" r="1.1"/><circle cx="130.39" cy="213.15" r="1.1"/><circle cx="130.73" cy="212.83" r="1.1"/><circle cx="131.07" cy="211.97" r="1.1"/><circle cx="131.41" cy="216.14" r="1.1"/><circle cx="131.75" cy="214.76" r="1.1"/><circle cx="132.09" cy="212.56" r="1.1"/><circle cx="132.43" cy="216.59" r="1.1"/><circle cx="132.78" cy="218.06" r="1.1"/><circle cx="133.12" cy="215.04" r="1.1"/><circle cx="133.46" cy="214.36" r="1.1"/><circle cx="133.80" cy="218.98" r="1.1"/><circle cx="134.14" cy="212.55" r="1.1"/><circle cx="134.48" cy="219.72" r="1.1"/><circle cx="134.82" cy="218.83" r="1.1"/><circle cx="135.16" cy="220.52" r="1.1"/><circle cx="135.50" cy="220.92" r="1.1"/><circle cx="135.84" cy="226.04" r="1.1"/><circle cx="136.18" cy="224.10" r="1.1"/><circle cx="136.52" cy="225.92" r="1.1"/><circle cx="136.86" cy="226.42" r="1.1"/><circle cx="137.20" cy="225.81" r="1.1"/><circle cx="137.54" cy="226.96" r="1.1"/><circle cx="137.88" cy="229.43" r="1.1"/><circle cx="138.22" cy="228.61" r="1.1"/><circle cx="138.56" cy="229.17" r="1.1"/><circle cx="138.90" cy="230.40" r="1.1"/><circle cx="139.24" cy="229.27" r="1.1"/><circle cx="139.58" cy="230.17" r="1.1"/><circle cx="139.92" cy="228.98" r="1.1"/><circle cx="140.26" cy="229.81" r="1.1"/><circle cx="140.60" cy="230.07" r="1.1"/><circle cx="140.94" cy="230.59" r="1.1"/><circle cx="141.28" cy="230.12" r="1.1"/><circle cx="141.62" cy="229.45" r="1.1"/><circle cx="141.97" cy="229.39" r="1.1"/><circle cx="142.31" cy="230.98" r="1.1"/><circle cx="142.65" cy="228.96" r="1.1"/><circle cx="142.99" cy="231.07" r="1.1"/><circle cx="143.33" cy="230.37" r="1.1"/><circle cx="143.67" cy="228.03" r="1.1"/><circle cx="144.01" cy="228.20" r="1.1"/><circle cx="144.35" cy="229.98" r="1.1"/><circle cx="144.69" cy="228.49" r="1.1"/><circle cx="145.03" cy="230.39" r="1.1"/><circle cx="145.37" cy="228.58" r="1.1"/><circle cx="145.71" cy="230.01" r="1.1"/><circle cx="146.05" cy="228.96" r="1.1"/><circle cx="146.39" cy="228.73" r="1.1"/><circle cx="146.73" cy="228.32" r="1.1"/><circle cx="147.07" cy="227.27" r="1.1"/><circle cx="147.41" cy="227.81" r="1.1"/><circle cx="147.75" cy="227.73" r="1.1"/><circle cx="148.09" cy="226.77" r="1.1"/><circle cx="148.43" cy="227.92" r="1.1"/><circle cx="148.77" cy="229.28" r="1.1"/><circle cx="149.11" cy="228.24" r="1.1"/><circle cx="149.45" cy="229.65" r="1.1"/><circle cx="149.79" cy="227.40" r="1.1"/><circle cx="150.13" cy="227.62" r="1.1"/><circle cx="150.48" cy="227.91" r="1.1"/><circle cx="150.82" cy="227.47" r="1.1"/><circle cx="151.16" cy="227.90" r="1.1"/><circle cx="151.50" cy="226.24" r="1.1"/><circle cx="151.84" cy="226.94" r="1.1"/><circle cx="152.18" cy="225.83" r="1.1"/><circle cx="152.52" cy="226.54" r="1.1"/><circle cx="152.86" cy="227.48" r="1.1"/><circle cx="153.20" cy="226.06" r="1.1"/><circle cx="153.54" cy="228.98" r="1.1"/><circle cx="153.88" cy="225.55" r="1.1"/><circle cx="154.22" cy="224.64" r="1.1"/><circle cx="154.56" cy="226.11" r="1.1"/><circle cx="154.90" cy="225.16" r="1.1"/><circle cx="155.24" cy="224.79" r="1.1"/><circle cx="155.58" cy="227.94" r="1.1"/><circle cx="155.92" cy="224.85" r="1.1"/><circle cx="156.26" cy="223.30" r="1.1"/><circle cx="156.60" cy="225.31" r="1.1"/><circle cx="156.94" cy="225.98" r="1.1"/><circle cx="157.28" cy="225.27" r="1.1"/><circle cx="157.62" cy="224.35" r="1.1"/><circle cx="157.96" cy="224.02" r="1.1"/><circle cx="158.30" cy="223.02" r="1.1"/><circle cx="158.64" cy="222.21" r="1.1"/><circle cx="158.98" cy="223.93" r="1.1"/><circle cx="159.33" cy="221.81" r="1.1"/><circle cx="159.67" cy="219.61" r="1.1"/><circle cx="160.01" cy="223.32" r="1.1"/><circle cx="160.35" cy="219.63" r="1.1"/><circle cx="160.69" cy="219.83" r="1.1"/><circle cx="161.03" cy="222.33" r="1.1"/><circle cx="161.37" cy="218.52" r="1.1"/><circle cx="161.71" cy="216.47" r="1.1"/><circle cx="162.05" cy="214.67" r="1.1"/><circle cx="162.39" cy="216.10" r="1.1"/><circle cx="162.73" cy="214.78" r="1.1"/><circle cx="163.07" cy="209.13" r="1.1"/><circle cx="163.41" cy="211.86" r="1.1"/><circle cx="163.75" cy="212.22" r="1.1"/><circle cx="164.09" cy="205.53" r="1.1"/><circle cx="164.43" cy="206.52" r="1.1"/><circle cx="164.77" cy="208.88" r="1.1"/><circle cx="165.11" cy="208.42" r="1.1"/><circle cx="165.45" cy="202.41" r="1.1"/><circle cx="165.79" cy="212.27" r="1.1"/><circle cx="166.13" cy="214.38" r="1.1"/><circle cx="166.47" cy="210.36" r="1.1"/><circle cx="166.81" cy="211.76" r="1.1"/><circle cx="167.15" cy="211.96" r="1.1"/><circle cx="167.49" cy="216.52" r="1.1"/><circle cx="167.83" cy="215.99" r="1.1"/><circle cx="168.18" cy="216.25" r="1.1"/><circle cx="168.52" cy="215.24" r="1.1"/><circle cx="168.86" cy="218.00" r="1.1"/><circle cx="169.20" cy="216.14" r="1.1"/><circle cx="169.54" cy="221.00" r="1.1"/><circle cx="169.88" cy="216.55" r="1.1"/><circle cx="170.22" cy="220.50" r="1.1"/><circle cx="170.56" cy="219.11" r="1.1"/><circle cx="170.90" cy="222.70" r="1.1"/><circle cx="171.24" cy="221.58" r="1.1"/><circle cx="171.58" cy="224.88" r="1.1"/><circle cx="171.92" cy="223.95" r="1.1"/><circle cx="172.26" cy="224.06" r="1.1"/><circle cx="172.60" cy="223.53" r="1.1"/><circle cx="172.94" cy="225.74" r="1.1"/><circle cx="173.28" cy="225.09" r="1.1"/><circle cx="173.62" cy="224.80" r="1.1"/><circle cx="173.96" cy="223.31" r="1.1"/><circle cx="174.30" cy="227.13" r="1.1"/><circle cx="174.64" cy="228.44" r="1.1"/><circle cx="174.98" cy="227.66" r="1.1"/><circle cx="175.32" cy="227.33" r="1.1"/><circle cx="175.66" cy="226.80" r="1.1"/><circle cx="176.00" cy="228.70" r="1.1"/><circle cx="176.34" cy="225.81" r="1.1"/><circle cx="176.68" cy="224.83" r="1.1"/><circle cx="177.03" cy="224.65" r="1.1"/><circle cx="177.37" cy="223.35" r="1.1"/><circle cx="177.71" cy="223.50" r="1.1"/><circle cx="178.05" cy="223.36" r="1.1"/><circle cx="178.39" cy="222.83" r="1.1"/><circle cx="178.73" cy="222.15" r="1.1"/><circle cx="179.07" cy="224.47" r="1.1"/><circle cx="179.41" cy="220.77" r="1.1"/><circle cx="179.75" cy="219.87" r="1.1"/><circle cx="180.09" cy="219.75" r="1.1"/><circle cx="180.43" cy="220.68" r="1.1"/><circle cx="180.77" cy="217.09" r="1.1"/><circle cx="181.11" cy="219.05" r="1.1"/><circle cx="181.45" cy="217.28" r="1.1"/><circle cx="181.79" cy="215.35" r="1.1"/><circle cx="182.13" cy="213.24" r="1.1"/><circle cx="182.47" cy="215.77" r="1.1"/><circle cx="182.81" cy="213.01" r="1.1"/><circle cx="183.15" cy="207.18" r="1.1"/><circle cx="183.49" cy="210.40" r="1.1"/><circle cx="183.83" cy="208.29" r="1.1"/><circle cx="184.17" cy="205.30" r="1.1"/><circle cx="184.51" cy="204.10" r="1.1"/><circle cx="184.85" cy="190.23" r="1.1"/><circle cx="185.19" cy="200.16" r="1.1"/><circle cx="185.53" cy="198.66" r="1.1"/><circle cx="185.88" cy="186.93" r="1.1"/><circle cx="186.22" cy="204.92" r="1.1"/><circle cx="186.56" cy="204.88" r="1.1"/><circle cx="186.90" cy="199.25" r="1.1"/><circle cx="187.24" cy="192.90" r="1.1"/><circle cx="187.58" cy="209.36" r="1.1"/><circle cx="187.92" cy="201.75" r="1.1"/><circle cx="188.26" cy="212.57" r="1.1"/><circle cx="188.60" cy="212.44" r="1.1"/><circle cx="188.94" cy="223.14" r="1.1"/><circle cx="189.28" cy="217.16" r="1.1"/><circle cx="189.62" cy="219.68" r="1.1"/><circle cx="189.96" cy="220.72" r="1.1"/><circle cx="190.30" cy="218.28" r="1.1"/><circle cx="190.64" cy="223.65" r="1.1"/><circle cx="190.98" cy="223.00" r="1.1"/><circle cx="183.60" cy="174.80" r="1.1"/><circle cx="187.00" cy="178.80" r="1.1"/><circle cx="183.60" cy="178.00" r="1.1"/><circle cx="183.80" cy="182.00" r="1.1"/><circle cx="183.80" cy="184.40" r="1.1"/><circle cx="186.50" cy="190.00" r="1.1"/><circle cx="185.00" cy="196.00" r="1.1"/></g>
<polyline points="31.00,233.73 31.25,233.70 31.50,233.66 31.75,233.62 32.00,233.56 32.25,233.50 32.50,233.42 32.75,233.34 33.00,233.24 33.25,233.13 33.50,233.00 33.75,232.87 34.00,232.72 34.25,232.56 34.50,232.38 34.75,232.19 35.00,231.99 35.25,231.78 35.50,231.56 35.75,231.34 36.00,231.10 36.25,230.87 36.50,230.63 36.75,230.39 37.00,230.16 37.25,229.93 37.50,229.71 37.75,229.50 38.00,229.31 38.25,229.13 38.50,228.97 38.75,228.84 39.00,228.73 39.25,228.65 39.50,228.59 39.75,228.56 40.00,228.57 40.25,228.60 40.50,228.66 40.75,228.75 41.00,228.86 41.25,229.01 41.50,229.17 41.75,229.36 42.00,229.57 42.25,229.80 42.50,230.04 42.75,230.29 43.00,230.56 43.25,230.82 43.50,231.10 43.75,231.37 44.00,231.64 44.25,231.90 44.50,232.16 44.75,232.42 45.00,232.66 45.25,232.89 45.50,233.11 45.75,233.32 46.00,233.51 46.25,233.69 46.50,233.86 46.75,234.01 47.00,234.15 47.25,234.28 47.50,234.39 47.75,234.49 48.00,234.58 48.25,234.65 48.50,234.72 48.75,234.77 49.00,234.81 49.25,234.83 49.50,234.83 49.75,234.82 50.00,234.80 50.25,234.78 50.50,234.74 50.75,234.70 51.00,234.65 51.25,234.58 51.50,234.51 51.75,234.43 52.00,234.34 52.25,234.24 52.50,234.13 52.75,234.01 53.00,233.89 53.25,233.75 53.50,233.61 53.75,233.47 54.00,233.32 54.25,233.16 54.50,233.00 54.75,232.84 55.00,232.68 55.25,232.52 55.50,232.37 55.75,232.22 56.00,232.07 56.25,231.94 56.50,231.81 56.75,231.70 57.00,231.60 57.25,231.52 57.50,231.45 57.75,231.40 58.00,231.36 58.25,231.34 58.50,231.35 58.75,231.36 59.00,231.40 59.25,231.45 59.50,231.52 59.75,231.61 60.00,231.71 60.25,231.82 60.50,231.94 60.75,232.07 61.00,232.21 61.25,232.35 61.50,232.50 61.75,232.65 62.00,232.81 62.25,232.96 62.50,233.10 62.75,233.25 63.00,233.39 63.25,233.52 63.50,233.65 63.75,233.77 64.00,233.88 64.25,233.99 64.50,234.08 64.75,234.17 65.00,234.25 65.25,234.32 65.50,234.38 65.75,234.43 66.00,234.47 66.25,234.50 66.50,234.53 66.75,234.54 67.00,234.55 67.25,234.55 67.50,234.54 67.75,234.52 68.00,234.49 68.25,234.45 68.50,234.40 68.75,234.34 69.00,234.27 69.25,234.18 69.50,234.08 69.75,233.97 70.00,233.85 70.25,233.71 70.50,233.56 70.75,233.40 71.00,233.21 71.25,233.02 71.50,232.81 71.75,232.59 72.00,232.35 72.25,232.10 72.50,231.85 72.75,231.58 73.00,231.31 73.25,231.03 73.50,230.75 73.75,230.47 74.00,230.20 74.25,229.93 74.50,229.67 74.75,229.43 75.00,229.20 75.25,228.99 75.50,228.80 75.75,228.63 76.00,228.49 76.25,228.38 76.50,228.29 76.75,228.24 77.00,228.22 77.25,228.23 77.50,228.28 77.75,228.35 78.00,228.45 78.25,228.58 78.50,228.74 78.75,228.92 79.00,229.12 79.25,229.34 79.50,229.58 79.75,229.83 80.00,230.09 80.25,230.35 80.50,230.62 80.75,230.89 81.00,231.15 81.25,231.41 81.50,231.67 81.75,231.91 82.00,232.14 82.25,232.36 82.50,232.56 82.75,232.75 83.00,232.92 83.25,233.07 83.50,233.20 83.75,233.32 84.00,233.41 84.25,233.48 84.50,233.53 84.75,233.56 85.00,233.57 85.25,233.55 85.50,233.50 85.75,233.44 86.00,233.34 86.25,233.22 86.50,233.07 86.75,232.89 87.00,232.68 87.25,232.44 87.50,232.16 87.75,231.85 88.00,231.51 88.25,231.13 88.50,230.72 88.75,230.28 89.00,229.80 89.25,229.29 89.50,228.76 89.75,228.20 90.00,227.61 90.25,227.01 90.50,226.40 90.75,225.78 91.00,225.16 91.25,224.54 91.50,223.93 91.75,223.34 92.00,222.77 92.25,222.23 92.50,221.73 92.75,221.28 93.00,220.88 93.25,220.53 93.50,220.24 93.75,220.02 94.00,219.87 94.25,219.79 94.50,219.78 94.75,219.84 95.00,219.97 95.25,220.16 95.50,220.43 95.75,220.76 96.00,221.14 96.25,221.57 96.50,222.05 96.75,222.57 97.00,223.13 97.25,223.70 97.50,224.30 97.75,224.91 98.00,225.52 98.25,226.14 98.50,226.74 98.75,227.34 99.00,227.91 99.25,228.47 99.50,228.99 99.75,229.49 100.00,229.96 100.25,230.40 100.50,230.80 100.75,231.17 101.00,231.50 101.25,231.79 101.50,232.05 101.75,232.27 102.00,232.45 102.25,232.60 102.50,232.71 102.75,232.78 103.00,232.82 103.25,232.82 103.50,232.78 103.75,232.71 104.00,232.60 104.25,232.45 104.50,232.25 104.75,232.02 105.00,231.75 105.25,231.43 105.50,231.07 105.75,230.66 106.00,230.21 106.25,229.71 106.50,229.16 106.75,228.58 107.00,227.94 107.25,227.27 107.50,226.56 107.75,225.82 108.00,225.05 108.25,224.25 108.50,223.44 108.75,222.61 109.00,221.79 109.25,220.97 109.50,220.16 109.75,219.37 110.00,218.62 110.25,217.91 110.50,217.25 110.75,216.65 111.00,216.12 111.25,215.66 111.50,215.28 111.75,214.99 112.00,214.78 112.25,214.68 112.50,214.66 112.75,214.74 113.00,214.92 113.25,215.18 113.50,215.54 113.75,215.97 114.00,216.48 114.25,217.06 114.50,217.70 114.75,218.39 115.00,219.13 115.25,219.90 115.50,220.69 115.75,221.50 116.00,222.31 116.25,223.13 116.50,223.93 116.75,224.72 117.00,225.49 117.25,226.22 117.50,226.92 117.75,227.59 118.00,228.21 118.25,228.79 118.50,229.32 118.75,229.80 119.00,230.23 119.25,230.61 119.50,230.95 119.75,231.23 120.00,231.46 120.25,231.65 120.50,231.78 120.75,231.86 121.00,231.90 121.25,231.88 121.50,231.82 121.75,231.70 122.00,231.54 122.25,231.32 122.50,231.04 122.75,230.72 123.00,230.34 123.25,229.90 123.50,229.41 123.75,228.87 124.00,228.27 124.25,227.61 124.50,226.91 124.75,226.15 125.00,225.35 125.25,224.50 125.50,223.62 125.75,222.71 126.00,221.78 126.25,220.83 126.50,219.87 126.75,218.91 127.00,217.97 127.25,217.05 127.50,216.16 127.75,215.32 128.00,214.53 128.25,213.80 128.50,213.15 128.75,212.58 129.00,212.10 129.25,211.73 129.50,211.45 129.75,211.28 130.00,211.22 130.25,211.27 130.50,211.43 130.75,211.70 131.00,212.07 131.25,212.54 131.50,213.10 131.75,213.74 132.00,214.45 132.25,215.23 132.50,216.07 132.75,216.95 133.00,217.86 133.25,218.79 133.50,219.74 133.75,220.69 134.00,221.63 134.25,222.55 134.50,223.45 134.75,224.32 135.00,225.15 135.25,225.94 135.50,226.68 135.75,227.37 136.00,228.00 136.25,228.58 136.50,229.10 136.75,229.57 137.00,229.97 137.25,230.32 137.50,230.60 137.75,230.83 138.00,230.99 138.25,231.10 138.50,231.14 138.75,231.13 139.00,231.05 139.25,230.91 139.50,230.71 139.75,230.44 140.00,230.11 140.25,229.71 140.50,229.25 140.75,228.71 141.00,228.10 141.25,227.43 141.50,226.68 141.75,225.86 142.00,224.98 142.25,224.03 142.50,223.02 142.75,221.96 143.00,220.84 143.25,219.69 143.50,218.49 143.75,217.28 144.00,216.05 144.25,214.82 144.50,213.59 144.75,212.40 145.00,211.24 145.25,210.13 145.50,209.08 145.75,208.11 146.00,207.24 146.25,206.46 146.50,205.80 146.75,205.26 147.00,204.86 147.25,204.58 147.50,204.45 147.75,204.46 148.00,204.61 148.25,204.90 148.50,205.33 148.75,205.88 149.00,206.56 149.25,207.35 149.50,208.23 149.75,209.21 150.00,210.26 150.25,211.37 150.50,212.53 150.75,213.73 151.00,214.94 151.25,216.16 151.50,217.38 151.75,218.59 152.00,219.76 152.25,220.90 152.50,222.00 152.75,223.04 153.00,224.03 153.25,224.96 153.50,225.82 153.75,226.61 154.00,227.33 154.25,227.98 154.50,228.56 154.75,229.07 155.00,229.51 155.25,229.88 155.50,230.18 155.75,230.41 156.00,230.57 156.25,230.67 156.50,230.70 156.75,230.66 157.00,230.56 157.25,230.39 157.50,230.15 157.75,229.84 158.00,229.47 158.25,229.02 158.50,228.49 158.75,227.90 159.00,227.23 159.25,226.48 159.50,225.66 159.75,224.77 160.00,223.81 160.25,222.79 160.50,221.70 160.75,220.56 161.00,219.36 161.25,218.13 161.50,216.86 161.75,215.57 162.00,214.27 162.25,212.98 162.50,211.70 162.75,210.45 163.00,209.24 163.25,208.10 163.50,207.03 163.75,206.05 164.00,205.17 164.25,204.40 164.50,203.75 164.75,203.24 165.00,202.87 165.25,202.64 165.50,202.56 165.75,202.63 166.00,202.85 166.25,203.21 166.50,203.72 166.75,204.35 167.00,205.11 167.25,205.99 167.50,206.96 167.75,208.02 168.00,209.16 168.25,210.35 168.50,211.59 168.75,212.86 169.00,214.15 169.25,215.44 169.50,216.72 169.75,217.98 170.00,219.20 170.25,220.39 170.50,221.53 170.75,222.61 171.00,223.63 171.25,224.58 171.50,225.46 171.75,226.27 172.00,227.01 172.25,227.67 172.50,228.26 172.75,228.77 173.00,229.21 173.25,229.58 173.50,229.87 173.75,230.10 174.00,230.25 174.25,230.33 174.50,230.33 174.75,230.26 175.00,230.12 175.25,229.90 175.50,229.60 175.75,229.22 176.00,228.75 176.25,228.19 176.50,227.54 176.75,226.80 177.00,225.95 177.25,225.00 177.50,223.95 177.75,222.79 178.00,221.52 178.25,220.15 178.50,218.68 178.75,217.11 179.00,215.45 179.25,213.71 179.50,211.89 179.75,210.01 180.00,208.08 180.25,206.12 180.50,204.15 180.75,202.19 181.00,200.25 181.25,198.35 181.50,196.53 181.75,194.79 182.00,193.17 182.25,191.68 182.50,190.34 182.75,189.18 183.00,188.20 183.25,187.42 183.50,186.86 183.75,186.51 184.00,186.40 184.25,186.51 184.50,186.84 184.75,187.40 185.00,188.16 185.25,189.13 185.50,190.29 185.75,191.62 186.00,193.10 186.25,194.71 186.50,196.44 186.75,198.25 187.00,200.14 187.25,202.07 187.50,204.03 187.75,206.00 188.00,207.95 188.25,209.87 188.50,211.74 188.75,213.56 189.00,215.30 189.25,216.96 189.50,218.53 189.75,220.00 190.00,221.38 190.25,222.65 190.50,223.82 190.75,224.90 191.00,225.87" fill="none" stroke="#ff0000" stroke-width="1.7" stroke-linejoin="round" stroke-linecap="round"/>
<line x1="22.30" y1="123.40" x2="22.30" y2="235.30" stroke="#6e6e6e" stroke-width="0.60"/>
<line x1="22.30" y1="235.30" x2="191.60" y2="235.30" stroke="#6e6e6e" stroke-width="0.60"/>
<line x1="22.30" y1="235.30" x2="23.60" y2="235.30" stroke="#6e6e6e" stroke-width="0.60"/>
<text x="20.50" y="237.70" font-family="Liberation Serif" font-size="6.00" text-anchor="end" fill="#262626">0</text>
<line x1="22.30" y1="213.00" x2="23.60" y2="213.00" stroke="#6e6e6e" stroke-width="0.60"/>
<text x="20.50" y="215.40" font-family="Liberation Serif" font-size="6.00" text-anchor="end" fill="#262626">200</text>
<line x1="22.30" y1="190.70" x2="23.60" y2="190.70" stroke="#6e6e6e" stroke-width="0.60"/>
<text x="20.50" y="193.10" font-family="Liberation Serif" font-size="6.00" text-anchor="end" fill="#262626">400</text>
<line x1="22.30" y1="168.40" x2="23.60" y2="168.40" stroke="#6e6e6e" stroke-width="0.60"/>
<text x="20.50" y="170.80" font-family="Liberation Serif" font-size="6.00" text-anchor="end" fill="#262626">600</text>
<line x1="22.30" y1="146.10" x2="23.60" y2="146.10" stroke="#6e6e6e" stroke-width="0.60"/>
<text x="20.50" y="148.50" font-family="Liberation Serif" font-size="6.00" text-anchor="end" fill="#262626">800</text>
<line x1="22.30" y1="123.80" x2="23.60" y2="123.80" stroke="#6e6e6e" stroke-width="0.60"/>
<text x="20.50" y="126.20" font-family="Liberation Serif" font-size="6.00" text-anchor="end" fill="#262626">1000</text>
<line x1="31.50" y1="235.30" x2="31.50" y2="234.00" stroke="#6e6e6e" stroke-width="0.60"/>
<line x1="49.20" y1="235.30" x2="49.20" y2="234.00" stroke="#6e6e6e" stroke-width="0.60"/>
<line x1="66.90" y1="235.30" x2="66.90" y2="234.00" stroke="#6e6e6e" stroke-width="0.60"/>
<line x1="84.60" y1="235.30" x2="84.60" y2="234.00" stroke="#6e6e6e" stroke-width="0.60"/>
<line x1="102.30" y1="235.30" x2="102.30" y2="234.00" stroke="#6e6e6e" stroke-width="0.60"/>
<line x1="120.00" y1="235.30" x2="120.00" y2="234.00" stroke="#6e6e6e" stroke-width="0.60"/>
<line x1="137.70" y1="235.30" x2="137.70" y2="234.00" stroke="#6e6e6e" stroke-width="0.60"/>
<line x1="155.40" y1="235.30" x2="155.40" y2="234.00" stroke="#6e6e6e" stroke-width="0.60"/>
<line x1="173.10" y1="235.30" x2="173.10" y2="234.00" stroke="#6e6e6e" stroke-width="0.60"/>
<line x1="190.80" y1="235.30" x2="190.80" y2="234.00" stroke="#6e6e6e" stroke-width="0.60"/>
<text x="49.00" y="242.90" font-family="Liberation Serif" font-size="6.00" text-anchor="middle" fill="#262626">Jul 2011</text>
<text x="84.40" y="242.90" font-family="Liberation Serif" font-size="6.00" text-anchor="middle" fill="#262626">Jul 2013</text>
<text x="119.80" y="242.90" font-family="Liberation Serif" font-size="6.00" text-anchor="middle" fill="#262626">Jul 2015</text>
<text x="155.20" y="242.90" font-family="Liberation Serif" font-size="6.00" text-anchor="middle" fill="#262626">Jul 2017</text>
<text x="190.60" y="242.90" font-family="Liberation Serif" font-size="6.00" text-anchor="middle" fill="#262626">Jul 2019</text>
<text x="111.1" y="250.5" font-family="Liberation Serif" font-size="6.65" text-anchor="middle" fill="#262626">Time</text>
<text x="0" y="0" font-family="Liberation Serif" font-size="6.32" text-anchor="middle" fill="#262626" transform="translate(6.2 179) rotate(-90)">Weekly influenza cases</text>
<text x="7.0" y="115.6" font-family="Liberation Sans" font-size="6.3" text-anchor="middle" fill="#111" style="stroke:#111;stroke-width:0.12px">(<tspan font-style="italic">b</tspan>)</text>
<rect x="100.4" y="126.3" width="97.4" height="20.5" fill="#fff" stroke="#8c8c8c" stroke-width="0.45"/>
<circle cx="106.3" cy="130.3" r="1.05" fill="none" stroke="#2f2fff" stroke-opacity="0.55" stroke-width="0.5"/>
<line x1="101.60" y1="136.70" x2="111.00" y2="136.70" stroke="#ff0000" stroke-width="1.30"/>
<rect x="101.6" y="141.3" width="9.4" height="4.4" fill="#fdb0b0"/>
<text x="112.7" y="132.30" font-family="Liberation Serif" font-size="6.25" fill="#111">Influenza cases</text>
<text x="112.7" y="138.90" font-family="Liberation Serif" font-size="6.25" fill="#111">Simulated influenza cases</text>
<text x="112.7" y="145.60" font-family="Liberation Serif" font-size="6.25" fill="#111">Simulated influenza cases 95%CI</text>
</g>
<g id="pc">
<line x1="234.20" y1="235.40" x2="353.06" y2="118.01" stroke="#b8b8b8" stroke-width="0.7" stroke-dasharray="2.8,1.7"/>
<line x1="234.20" y1="123.30" x2="234.20" y2="235.40" stroke="#6e6e6e" stroke-width="0.60"/>
<line x1="234.20" y1="235.40" x2="350.00" y2="235.40" stroke="#6e6e6e" stroke-width="0.60"/>
<line x1="234.20" y1="235.40" x2="235.50" y2="235.40" stroke="#6e6e6e" stroke-width="0.60"/>
<line x1="234.20" y1="235.40" x2="234.20" y2="234.10" stroke="#6e6e6e" stroke-width="0.60"/>
<text x="232.20" y="237.80" font-family="Liberation Serif" font-size="6.00" text-anchor="end" fill="#262626">0</text>
<text x="234.30" y="242.90" font-family="Liberation Serif" font-size="6.00" text-anchor="middle" fill="#262626">0</text>
<line x1="234.20" y1="207.45" x2="235.50" y2="207.45" stroke="#6e6e6e" stroke-width="0.60"/>
<line x1="262.50" y1="235.40" x2="262.50" y2="234.10" stroke="#6e6e6e" stroke-width="0.60"/>
<text x="232.20" y="209.85" font-family="Liberation Serif" font-size="6.00" text-anchor="end" fill="#262626">0.5</text>
<text x="262.60" y="242.90" font-family="Liberation Serif" font-size="6.00" text-anchor="middle" fill="#262626">0.5</text>
<line x1="234.20" y1="179.50" x2="235.50" y2="179.50" stroke="#6e6e6e" stroke-width="0.60"/>
<line x1="290.80" y1="235.40" x2="290.80" y2="234.10" stroke="#6e6e6e" stroke-width="0.60"/>
<text x="232.20" y="181.90" font-family="Liberation Serif" font-size="6.00" text-anchor="end" fill="#262626">1</text>
<text x="290.90" y="242.90" font-family="Liberation Serif" font-size="6.00" text-anchor="middle" fill="#262626">1</text>
<line x1="234.20" y1="151.55" x2="235.50" y2="151.55" stroke="#6e6e6e" stroke-width="0.60"/>
<line x1="319.10" y1="235.40" x2="319.10" y2="234.10" stroke="#6e6e6e" stroke-width="0.60"/>
<text x="232.20" y="153.95" font-family="Liberation Serif" font-size="6.00" text-anchor="end" fill="#262626">1.5</text>
<text x="319.20" y="242.90" font-family="Liberation Serif" font-size="6.00" text-anchor="middle" fill="#262626">1.5</text>
<line x1="234.20" y1="123.60" x2="235.50" y2="123.60" stroke="#6e6e6e" stroke-width="0.60"/>
<line x1="347.40" y1="235.40" x2="347.40" y2="234.10" stroke="#6e6e6e" stroke-width="0.60"/>
<text x="232.20" y="126.00" font-family="Liberation Serif" font-size="6.00" text-anchor="end" fill="#262626">2</text>
<text x="347.50" y="242.90" font-family="Liberation Serif" font-size="6.00" text-anchor="middle" fill="#262626">2</text>
<line x1="241.00" y1="174.70" x2="241.00" y2="231.50" stroke="#3636ff" stroke-width="1.20"/>
<line x1="239.10" y1="174.70" x2="242.90" y2="174.70" stroke="#3636ff" stroke-width="0.90"/>
<line x1="239.10" y1="231.50" x2="242.90" y2="231.50" stroke="#3636ff" stroke-width="0.90"/>
<line x1="242.20" y1="229.30" x2="242.20" y2="232.40" stroke="#3636ff" stroke-width="1.20"/>
<line x1="240.30" y1="229.30" x2="244.10" y2="229.30" stroke="#3636ff" stroke-width="0.90"/>
<line x1="240.30" y1="232.40" x2="244.10" y2="232.40" stroke="#3636ff" stroke-width="0.90"/>
<line x1="244.20" y1="223.90" x2="244.20" y2="227.00" stroke="#3636ff" stroke-width="1.20"/>
<line x1="242.30" y1="223.90" x2="246.10" y2="223.90" stroke="#3636ff" stroke-width="0.90"/>
<line x1="242.30" y1="227.00" x2="246.10" y2="227.00" stroke="#3636ff" stroke-width="0.90"/>
<line x1="247.50" y1="162.90" x2="247.50" y2="232.40" stroke="#3636ff" stroke-width="1.20"/>
<line x1="245.60" y1="162.90" x2="249.40" y2="162.90" stroke="#3636ff" stroke-width="0.90"/>
<line x1="245.60" y1="232.40" x2="249.40" y2="232.40" stroke="#3636ff" stroke-width="0.90"/>
<line x1="247.80" y1="212.70" x2="247.80" y2="232.40" stroke="#3636ff" stroke-width="1.20"/>
<line x1="245.90" y1="212.70" x2="249.70" y2="212.70" stroke="#3636ff" stroke-width="0.90"/>
<line x1="245.90" y1="232.40" x2="249.70" y2="232.40" stroke="#3636ff" stroke-width="0.90"/>
<line x1="252.00" y1="166.30" x2="252.00" y2="231.00" stroke="#3636ff" stroke-width="1.20"/>
<line x1="250.10" y1="166.30" x2="253.90" y2="166.30" stroke="#3636ff" stroke-width="0.90"/>
<line x1="250.10" y1="231.00" x2="253.90" y2="231.00" stroke="#3636ff" stroke-width="0.90"/>
<line x1="274.40" y1="170.30" x2="274.40" y2="231.00" stroke="#3636ff" stroke-width="1.20"/>
<line x1="272.50" y1="170.30" x2="276.30" y2="170.30" stroke="#3636ff" stroke-width="0.90"/>
<line x1="272.50" y1="231.00" x2="276.30" y2="231.00" stroke="#3636ff" stroke-width="0.90"/>
<line x1="274.90" y1="168.30" x2="274.90" y2="231.00" stroke="#3636ff" stroke-width="1.20"/>
<line x1="273.00" y1="168.30" x2="276.80" y2="168.30" stroke="#3636ff" stroke-width="0.90"/>
<line x1="273.00" y1="231.00" x2="276.80" y2="231.00" stroke="#3636ff" stroke-width="0.90"/>
<line x1="291.60" y1="143.90" x2="291.60" y2="228.00" stroke="#3636ff" stroke-width="1.20"/>
<line x1="289.70" y1="143.90" x2="293.50" y2="143.90" stroke="#3636ff" stroke-width="0.90"/>
<line x1="289.70" y1="228.00" x2="293.50" y2="228.00" stroke="#3636ff" stroke-width="0.90"/>
<circle cx="241.00" cy="216.00" r="1.4" fill="#1010ff"/>
<circle cx="242.20" cy="230.40" r="1.4" fill="#1010ff"/>
<circle cx="244.20" cy="225.00" r="1.4" fill="#1010ff"/>
<circle cx="247.50" cy="209.60" r="1.4" fill="#1010ff"/>
<circle cx="247.80" cy="226.60" r="1.4" fill="#1010ff"/>
<circle cx="252.00" cy="198.40" r="1.4" fill="#1010ff"/>
<circle cx="274.40" cy="206.40" r="1.4" fill="#1010ff"/>
<circle cx="274.90" cy="195.60" r="1.4" fill="#1010ff"/>
<circle cx="291.60" cy="177.00" r="1.4" fill="#1010ff"/>
<text x="0" y="0" transform="translate(302.1 135.2) scale(1.15 1)" font-family="Liberation Sans" font-size="7" font-weight="bold" font-style="italic" text-anchor="middle" fill="#000">r=0.85, p=0.003</text>
<text x="291" y="249.8" font-family="Liberation Serif" font-size="6.65" text-anchor="middle" fill="#262626">Annual influenza cases</text>
<text x="335" y="251.3" font-family="Liberation Serif" font-size="6.6" fill="#262626">×10<tspan font-size="4.6" dy="-2.6">4</tspan></text>
<text x="235.2" y="121.2" font-family="Liberation Serif" font-size="6.6" fill="#262626">×10<tspan font-size="4.6" dy="-2.6">4</tspan></text>
<text x="0" y="0" font-family="Liberation Serif" font-size="6.32" text-anchor="middle" fill="#262626" transform="translate(222.1 179.4) rotate(-90)">Simulated annual influenza cases</text>
<text x="216.7" y="115.6" font-family="Liberation Sans" font-size="6.0" text-anchor="middle" fill="#111" style="stroke:#111;stroke-width:0.12px">(<tspan font-style="italic">c</tspan>)</text>
</g>
</svg>
</body></html>
